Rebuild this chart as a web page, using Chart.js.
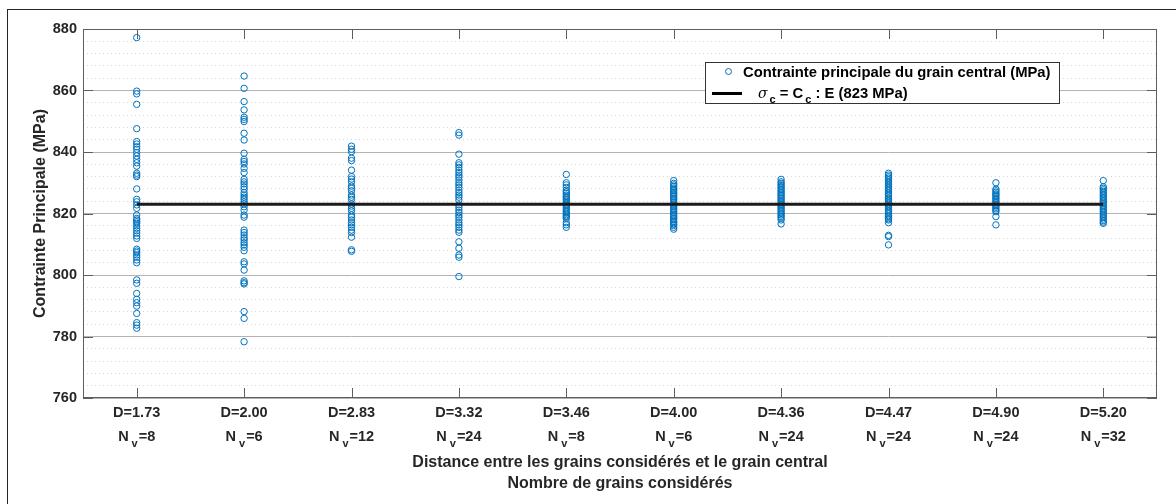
<!DOCTYPE html>
<html>
<head>
<meta charset="utf-8">
<script src="https://cdn.jsdelivr.net/npm/chart.js@4.4.0/dist/chart.umd.min.js"></script>
<style>
    html, body { margin: 0; padding: 0; background: #fff; overflow: hidden; }
    #wrap { position: relative; width: 1176px; height: 504px; }
    #frame { position: absolute; left: 7px; top: 9px; width: 1300px; height: 700px;
             border-left: 1px solid #262626; border-top: 1px solid #262626; pointer-events: none; }
    #legend { position: absolute; left: 705px; top: 62px; width: 355px; height: 42px;
              background: #fff; border: 1px solid #333; box-sizing: border-box;
              font-family: 'Liberation Sans', Arial, Helvetica, sans-serif; font-weight: bold;
              font-size: 14.8px; color: #000; }
    #legend .mk { position: absolute; left: 19px; top: 5px; width: 7px; height: 7px;
                  border: 1px solid #0072bd; border-radius: 50%; box-sizing: border-box; }
    #legend .ln { position: absolute; left: 6px; top: 29px; width: 30px; height: 3px; background: #000; }
    #legend .t1 { position: absolute; left: 37px; top: 0px; line-height: 18px; white-space: nowrap; }
    #legend .t2 { position: absolute; left: 52px; top: 21px; line-height: 18px; white-space: nowrap; }
    #legend .t2 i { font-family: 'DejaVu Serif', serif; font-weight: normal; font-size: 14px; }
    #legend sub { font-size: 11px; vertical-align: -5px; margin-left: 2px; }
</style>
</head>
<body>
<div id="wrap">
    <canvas id="stressChart" width="1176" height="504"></canvas>
    <div id="frame"></div>
    <div id="legend">
        <span class="mk"></span><span class="t1">Contrainte principale du grain central (MPa)</span>
        <span class="ln"></span><span class="t2"><i>σ</i><sub>c</sub> = C<sub>c</sub> : E (823 MPa)</span>
    </div>
</div>
<script>
// categories (tick labels)
const distLabels = ['1.73', '2.00', '2.83', '3.32', '3.46', '4.00', '4.36', '4.47', '4.90', '5.20'];
const nvLabels = ['8', '6', '12', '24', '8', '6', '24', '24', '24', '32'];

// principal stress of the central grain, one list per distance (MPa)
const stressD173 = [877.2, 859.8, 858.9, 855.5, 847.6, 843.4, 842.6, 841.7, 840.9, 839.8, 838.7, 837.6,
    836.5, 835.4, 833.1, 832.5, 832.0, 828.0, 824.6, 823.8, 822.8, 821.7, 819.5, 818.4, 817.9, 817.3,
    816.8, 816.0, 815.2, 814.4, 813.6, 812.7, 811.9, 808.4, 807.8, 807.3, 806.5, 805.8, 804.9, 804.0,
    798.4, 797.3, 794.0, 792.1, 791.0, 789.9, 787.5, 784.5, 783.7, 782.7];
const stressD200 = [864.7, 860.7, 856.4, 853.7, 851.3, 850.6, 849.9, 846.1, 843.9, 839.6, 837.6, 836.9,
    836.1, 834.7, 833.3, 831.1, 830.3, 829.6, 828.7, 827.9, 826.8, 826.0, 825.3, 824.6, 823.8, 823.1,
    822.2, 821.1, 819.5, 818.8, 814.6, 813.8, 813.0, 812.1, 811.4, 810.5, 809.8, 809.0, 807.9, 804.3,
    803.6, 801.6, 798.1, 797.5, 797.1, 788.1, 785.9, 778.3];
const stressD283 = [841.9, 840.9, 840.1, 838.0, 837.2, 834.1, 832.0, 831.2, 830.3, 828.9, 828.2, 827.4,
    826.0, 825.3, 824.6, 823.1, 822.4, 821.7, 820.9, 819.5, 818.8, 817.9, 817.0, 816.3, 815.5, 814.6,
    813.8, 812.3, 808.2, 807.7];
const stressD332 = [846.3, 845.5, 839.3, 836.5, 835.8, 835.0, 834.1, 833.3, 832.5, 831.8, 830.9, 830.0,
    829.3, 828.5, 827.6, 826.8, 826.0, 825.3, 824.4, 822.8, 822.0, 821.1, 820.3, 819.5, 818.8, 817.9,
    817.0, 816.3, 815.5, 814.6, 813.9, 810.8, 808.7, 806.5, 805.8, 799.5];
const stressD346 = [832.7, 830.0, 829.3, 828.5, 827.6, 827.1, 826.6, 826.0, 825.5, 825.1, 824.6, 824.0,
    823.5, 823.0, 822.6, 822.1, 821.5, 821.0, 820.6, 820.1, 819.6, 819.2, 818.8, 818.4, 817.0, 816.3, 815.5];
const stressD400 = [830.7, 829.8, 829.3, 828.8, 828.3, 827.9, 827.4, 826.9, 826.4, 826.0, 825.5, 825.0,
    824.6, 824.1, 823.6, 823.1, 822.7, 822.2, 821.7, 821.2, 820.8, 820.3, 819.8, 819.3, 818.9, 818.4,
    817.9, 817.4, 817.0, 816.5, 816.1, 815.5, 814.9];
const stressD436 = [831.1, 830.3, 829.8, 829.3, 828.8, 828.3, 827.8, 827.3, 826.8, 826.3, 825.9, 825.4,
    824.9, 824.4, 823.9, 823.4, 823.0, 822.5, 822.0, 821.5, 821.0, 820.5, 820.0, 819.5, 819.0, 818.5,
    817.9, 816.6];
const stressD447 = [833.1, 832.5, 832.0, 831.5, 831.0, 830.4, 829.9, 829.4, 828.8, 828.3, 827.8, 827.3,
    826.7, 826.2, 825.7, 825.1, 824.6, 824.1, 823.6, 823.0, 822.5, 822.0, 821.4, 820.9, 820.4, 819.9,
    819.3, 818.8, 818.3, 817.9, 817.0, 812.9, 812.5, 809.8];
const stressD490 = [830.0, 827.9, 827.4, 826.9, 826.4, 826.0, 825.5, 825.0, 824.5, 824.0, 823.5, 823.0,
    822.5, 822.0, 821.5, 821.0, 820.6, 819.0, 816.3];
const stressD520 = [830.7, 828.7, 828.2, 827.7, 827.2, 826.7, 826.2, 825.7, 825.2, 824.7, 824.2, 823.7,
    823.2, 822.7, 822.2, 821.7, 821.2, 820.7, 820.2, 819.7, 819.2, 818.7, 818.2, 817.7, 817.2, 816.8];

const stressColumns = [stressD173, stressD200, stressD283, stressD332, stressD346,
    stressD400, stressD436, stressD447, stressD490, stressD520];

const sigmaC = 823; // sigma_c = C_c : E

const fontFamily = "'Liberation Sans', Arial, Helvetica, sans-serif";
const textColor = '#262626';
const axisColor = '#5e5e5e';
const markerColor = '#0072bd';
const tickSize = 14.5;
const tickLen = 10;

// points: x = category position (1..10)
const points = [];
stressColumns.forEach((col, i) => col.forEach(v => points.push({x: i + 1, y: v})));

// -----------------------------
// x tick labels "D=.." / "N_v=.." with subscript
// -----------------------------
const tickLabelPlugin = {
    id: 'tickLabels',
    afterDraw(chart) {
        const {ctx, scales: {x}} = chart;
        const main = `bold ${tickSize}px ${fontFamily}`;
        const sub = `bold 11px ${fontFamily}`;
        ctx.save();
        ctx.fillStyle = textColor;
        ctx.textBaseline = 'middle';
        distLabels.forEach((d, i) => {
            const px = x.getPixelForValue(i + 1);
            ctx.font = main;
            ctx.textAlign = 'center';
            ctx.fillText('D=' + d, px, 413);

            const tail = '=' + nvLabels[i];
            const wN = ctx.measureText('N').width;
            const wT = ctx.measureText(tail).width;
            ctx.font = sub;
            const wV = ctx.measureText('v').width;
            const gap = 3;
            const total = wN + gap + wV + 1 + wT;
            const sx = px - total / 2;
            ctx.textAlign = 'left';
            ctx.font = main;
            ctx.fillText('N', sx, 437);
            ctx.font = sub;
            ctx.fillText('v', sx + wN + gap, 444);
            ctx.font = main;
            ctx.fillText(tail, sx + wN + gap + wV + 1, 437);
        });
        ctx.restore();
    }
};

// -----------------------------
// box + inward tick marks
// -----------------------------
const framePlugin = {
    id: 'frame',
    afterDatasetsDraw(chart) {
        const {ctx, chartArea: a, scales: {x, y}} = chart;
        ctx.save();
        ctx.strokeStyle = axisColor;
        ctx.lineWidth = 1;
        ctx.strokeRect(a.left + 0.5, a.top + 0.5, a.width - 1, a.height - 1);
        ctx.beginPath();
        x.ticks.forEach(t => {
            const px = Math.round(x.getPixelForValue(t.value)) + 0.5;
            ctx.moveTo(px, a.bottom);
            ctx.lineTo(px, a.bottom - tickLen);
            ctx.moveTo(px, a.top);
            ctx.lineTo(px, a.top + tickLen);
        });
        y.ticks.forEach(t => {
            const py = Math.round(y.getPixelForValue(t.value)) + 0.5;
            ctx.moveTo(a.left, py);
            ctx.lineTo(a.left + tickLen, py);
            ctx.moveTo(a.right, py);
            ctx.lineTo(a.right - tickLen, py);
        });
        ctx.stroke();
        ctx.restore();
    }
};

new Chart(document.getElementById('stressChart'), {
    type: 'scatter',
    data: {
        datasets: [{
            label: 'Contrainte principale du grain central (MPa)',
            data: points,
            pointStyle: 'circle',
            pointRadius: 3.2,
            pointBorderWidth: 1,
            pointBorderColor: markerColor,
            pointBackgroundColor: 'rgba(0,0,0,0)',
            order: 1
        }, {
            label: 'σc = Cc : E (823 MPa)',
            type: 'line',
            data: [{x: 1, y: sigmaC}, {x: stressColumns.length, y: sigmaC}],
            borderColor: '#1a1a1a',
            borderWidth: 3,
            pointRadius: 0,
            showLine: true,
            order: 0
        }]
    },
    options: {
        responsive: false,
        animation: false,
        devicePixelRatio: 1,
        layout: {padding: {left: 0, top: 29, right: 19, bottom: 0}},
        plugins: {
            legend: {display: false},
            tooltip: {enabled: false}
        },
        scales: {
            x: {
                type: 'linear',
                min: 0.5,
                max: 10.5,
                afterBuildTicks: s => { s.ticks = distLabels.map((_, i) => ({value: i + 1})); },
                afterFit: s => { s.height = 106; },
                ticks: {display: false},
                grid: {display: false},
                border: {display: false},
                title: {
                    display: true,
                    text: ['Distance entre les grains considérés et le grain central', 'Nombre de grains considérés'],
                    color: textColor,
                    font: {family: fontFamily, size: 16, weight: 'bold', lineHeight: 1.3125},
                    padding: {top: 0, bottom: 9.5}
                }
            },
            y: {
                min: 760,
                max: 880,
                afterFit: s => { s.width = 83; },
                ticks: {
                    stepSize: 20,
                    padding: 6,
                    color: textColor,
                    font: {family: fontFamily, size: tickSize, weight: 'bold'}
                },
                grid: {color: '#b3b3b3', lineWidth: 1, drawTicks: false},
                border: {display: false},
                title: {
                    display: true,
                    text: 'Contrainte Principale (MPa)',
                    color: textColor,
                    font: {family: fontFamily, size: 16, weight: 'bold'},
                    padding: {top: 31, bottom: 0}
                }
            },
            yMinor: {
                position: 'left',
                min: 760,
                max: 880,
                afterFit: s => { s.width = 0; },
                ticks: {display: false, stepSize: 4, autoSkip: false, maxTicksLimit: 100},
                grid: {
                    drawTicks: false,
                    lineWidth: 1,
                    color: c => (c.tick && c.tick.value % 20 === 0) ? 'rgba(0,0,0,0)' : '#d6d6d6'
                },
                border: {display: false, dash: [1, 3]}
            }
        }
    },
    plugins: [tickLabelPlugin, framePlugin]
});
</script>
</body>
</html>
